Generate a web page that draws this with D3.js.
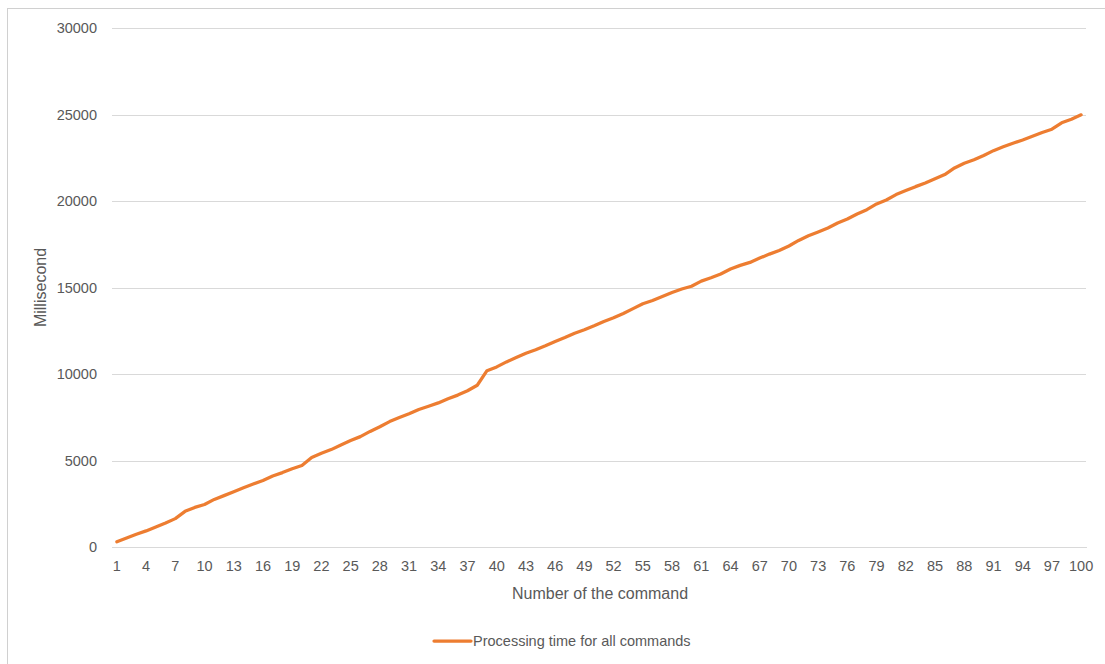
<!DOCTYPE html>
<html>
<head>
<meta charset="utf-8">
<script src="https://cdn.jsdelivr.net/npm/d3@7"></script>
<style>
  html, body { margin: 0; padding: 0; background: #fff; }
  svg { display: block; font-family: "Liberation Sans", Arial, sans-serif; }
</style>
</head>
<body>
<svg id="chart" width="1105" height="664"></svg>
<script>
// Command numbers 1..100
const commands = [
  1,2,3,4,5,6,7,8,9,10,11,12,13,14,15,16,17,18,19,20,
  21,22,23,24,25,26,27,28,29,30,31,32,33,34,35,36,37,38,39,40,
  41,42,43,44,45,46,47,48,49,50,51,52,53,54,55,56,57,58,59,60,
  61,62,63,64,65,66,67,68,69,70,71,72,73,74,75,76,77,78,79,80,
  81,82,83,84,85,86,87,88,89,90,91,92,93,94,95,96,97,98,99,100
];

// Cumulative processing time (ms) after each command
const processingTime = [
  300, 520, 740, 930, 1160, 1390, 1640, 2060, 2290, 2460,
  2750, 2970, 3200, 3430, 3640, 3840, 4100, 4300, 4520, 4710,
  5180, 5420, 5630, 5900, 6150, 6380, 6680, 6950, 7250, 7480,
  7700, 7950, 8140, 8330, 8570, 8780, 9030, 9350, 10190, 10410,
  10700, 10950, 11200, 11400, 11630, 11880, 12110, 12360, 12560, 12790,
  13040, 13250, 13500, 13780, 14060, 14250, 14480, 14710, 14910, 15070,
  15370, 15560, 15780, 16070, 16280, 16450, 16700, 16930, 17140, 17400,
  17720, 17990, 18210, 18440, 18730, 18960, 19250, 19500, 19830, 20060,
  20370, 20600, 20830, 21040, 21280, 21530, 21910, 22180, 22380, 22630,
  22910, 23130, 23340, 23530, 23740, 23960, 24150, 24520, 24730, 24980
];

const yTicks = [0, 5000, 10000, 15000, 20000, 25000, 30000];
const xTickLabels = commands.filter((d, i) => i % 3 === 0);

const seriesName = "Processing time for all commands";
const xTitle = "Number of the command";
const yTitle = "Millisecond";

const svg = d3.select("#chart");
const W = 1105, H = 664;
const plot = { left: 112, right: 1086, top: 28, bottom: 547 };
const textColor = "#595959";
const gridColor = "#d9d9d9";
const lineColor = "#ED7D31";

// Outer chart border
svg.append("rect")
  .attr("x", 7.5).attr("y", 8.5)
  .attr("width", W + 10).attr("height", H + 10)
  .attr("fill", "none").attr("stroke", "#d0d0d0").attr("stroke-width", 1);

const x = d3.scaleBand()
  .domain(commands)
  .range([plot.left, plot.right])
  .padding(0);

const y = d3.scaleLinear()
  .domain([0, 30000])
  .range([plot.bottom, plot.top]);

// Horizontal gridlines and value labels
const yAxis = d3.axisLeft(y)
  .tickValues(yTicks)
  .tickSize(-(plot.right - plot.left))
  .tickPadding(15)
  .tickFormat(d3.format("d"));

const gY = svg.append("g")
  .attr("transform", `translate(${plot.left},0)`)
  .call(yAxis);
gY.select(".domain").remove();
gY.selectAll(".tick line")
  .attr("stroke", gridColor).attr("stroke-width", 1)
  .attr("shape-rendering", "crispEdges");
gY.selectAll(".tick text")
  .attr("fill", textColor)
  .style("font-size", "14.5px");

// Category axis
const xAxis = d3.axisBottom(x)
  .tickValues(xTickLabels)
  .tickSize(0)
  .tickPadding(14);

const gX = svg.append("g")
  .attr("transform", `translate(0,${plot.bottom})`)
  .call(xAxis);
gX.select(".domain")
  .attr("stroke", gridColor)
  .attr("shape-rendering", "crispEdges");
gX.selectAll(".tick text")
  .attr("fill", textColor)
  .style("font-size", "14.5px");

// Axis titles
svg.append("text")
  .attr("x", (plot.left + plot.right) / 2 + 1)
  .attr("y", 599)
  .attr("text-anchor", "middle")
  .attr("fill", textColor)
  .style("font-size", "16px")
  .text(xTitle);

svg.append("text")
  .attr("transform", `translate(46,${(plot.top + plot.bottom) / 2}) rotate(-90)`)
  .attr("text-anchor", "middle")
  .attr("fill", textColor)
  .style("font-size", "16px")
  .text(yTitle);

// Series line
const line = d3.line()
  .x((d, i) => x(commands[i]) + x.bandwidth() / 2)
  .y(d => y(d));

svg.append("path")
  .datum(processingTime)
  .attr("fill", "none")
  .attr("stroke", lineColor)
  .attr("stroke-width", 3.25)
  .attr("stroke-linejoin", "round")
  .attr("stroke-linecap", "round")
  .attr("d", line);

// Legend
const legend = svg.append("g").attr("transform", "translate(434,641)");
legend.append("line")
  .attr("x1", 0).attr("x2", 37)
  .attr("y1", 0).attr("y2", 0)
  .attr("stroke", lineColor).attr("stroke-width", 3.25)
  .attr("stroke-linecap", "round");
legend.append("text")
  .attr("x", 39).attr("y", 5)
  .attr("fill", textColor)
  .style("font-size", "14.5px")
  .text(seriesName);
</script>
</body>
</html>
